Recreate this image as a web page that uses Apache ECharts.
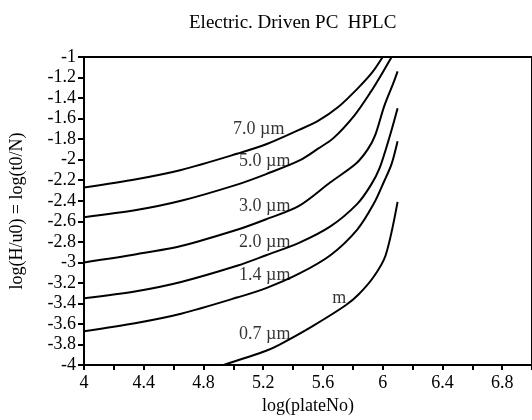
<!DOCTYPE html>
<html>
<head>
<meta charset="utf-8">
<script src="https://cdn.jsdelivr.net/npm/echarts@6/dist/echarts.min.js"></script>
<style>
  html, body { margin: 0; padding: 0; background: #fff; }
  #chart { width: 532px; height: 420px; }
</style>
</head>
<body>
<div id="chart"></div>
<script>
// curve data
var x70 = [4, 4.35, 4.65, 5.03, 5.22, 5.44, 5.57, 5.70, 5.83, 5.93, 6.00];
var y70 = [-2.27, -2.19, -2.10, -1.94, -1.85, -1.71, -1.62, -1.49, -1.31, -1.15, -1.00];

var x50 = [4, 4.35, 4.65, 5.03, 5.22, 5.44, 5.57, 5.67, 5.81, 5.92, 6.00, 6.06];
var y50 = [-2.56, -2.49, -2.40, -2.24, -2.14, -2.01, -1.89, -1.79, -1.57, -1.34, -1.15, -1.00];

var x30 = [4, 4.35, 4.65, 5.03, 5.22, 5.44, 5.65, 5.82, 5.90, 5.95, 6.01, 6.07, 6.10];
var y30 = [-3.00, -2.92, -2.84, -2.68, -2.58, -2.45, -2.22, -2.04, -1.90, -1.76, -1.48, -1.26, -1.14];

var x20 = [4, 4.35, 4.65, 5.03, 5.22, 5.44, 5.65, 5.83, 5.92, 5.98, 6.05, 6.10];
var y20 = [-3.35, -3.28, -3.19, -3.03, -2.93, -2.81, -2.65, -2.43, -2.25, -2.08, -1.76, -1.50];

var x14 = [4, 4.35, 4.65, 5.03, 5.22, 5.44, 5.65, 5.83, 5.94, 6.01, 6.06, 6.10];
var y14 = [-3.67, -3.59, -3.50, -3.34, -3.25, -3.11, -2.93, -2.68, -2.43, -2.21, -2.04, -1.82];

var x07 = [4.93, 5.22, 5.31, 5.52, 5.75, 5.84, 5.94, 6.02, 6.10];
var y07 = [-4.00, -3.86, -3.80, -3.63, -3.42, -3.31, -3.14, -2.93, -2.41];

// curve labels: [x, y, text]
var curveLabels = [
  [5.17, -1.70, '7.0 µm'],
  [5.21, -2.02, '5.0 µm'],
  [5.21, -2.45, '3.0 µm'],
  [5.21, -2.80, '2.0 µm'],
  [5.21, -3.13, '1.4 µm'],
  [5.21, -3.70, '0.7 µm'],
  [5.71, -3.35, 'm']
];

var serif = '"Liberation Serif", "DejaVu Serif", serif';

function pairs(xs, ys) {
  var out = [];
  for (var i = 0; i < xs.length; i++) {
    out.push([xs[i], ys[i]]);
  }
  return out;
}

function curve(name, xs, ys) {
  return {
    name: name,
    type: 'line',
    data: pairs(xs, ys),
    showSymbol: false,
    smooth: 0.3,
    lineStyle: { color: '#000', width: 2 },
    silent: true
  };
}

var chart = echarts.init(document.getElementById('chart'));
chart.setOption({
  animation: false,
  backgroundColor: '#fff',
  title: {
    text: 'Electric. Driven PC  HPLC',
    left: 184,
    top: 9,
    textStyle: { fontFamily: serif, fontSize: 19, fontWeight: 'normal', color: '#000' }
  },
  grid: {
    left: 80,
    top: 57,
    width: 459,
    height: 315,
    show: true,
    borderColor: '#000',
    borderWidth: 2
  },
  xAxis: {
    type: 'value',
    min: 4,
    max: 7,
    interval: 0.4,
    name: 'log(plateNo)',
    nameLocation: 'middle',
    nameGap: 30,
    nameTextStyle: { fontFamily: serif, fontSize: 18, color: '#000' },
    axisLine: { lineStyle: { color: '#000', width: 2 } },
    axisTick: { length: 5, lineStyle: { color: '#000', width: 2 } },
    minorTick: { show: true, splitNumber: 2, length: 5, lineStyle: { color: '#000', width: 2 } },
    axisLabel: {
      margin: 9,
      fontFamily: serif,
      fontSize: 18,
      color: '#000',
      showMaxLabel: false
    },
    splitLine: { show: false }
  },
  yAxis: {
    type: 'value',
    min: -4,
    max: -1,
    interval: 0.2,
    name: 'log(H/u0) = log(t0/N)',
    nameLocation: 'middle',
    nameGap: 58,
    nameTextStyle: { fontFamily: serif, fontSize: 18, color: '#000' },
    axisLine: { lineStyle: { color: '#000', width: 2 } },
    axisTick: { length: 6, lineStyle: { color: '#000', width: 2 } },
    axisLabel: {
      margin: 8,
      fontFamily: serif,
      fontSize: 18,
      color: '#000',
      formatter: function (v) { return String(Math.round(v * 10) / 10); }
    },
    splitLine: { show: false }
  },
  series: [
    curve('7.0', x70, y70),
    curve('5.0', x50, y50),
    curve('3.0', x30, y30),
    curve('2.0', x20, y20),
    curve('1.4', x14, y14),
    curve('0.7', x07, y07),
    {
      name: 'labels',
      type: 'scatter',
      data: curveLabels,
      symbolSize: 0,
      silent: true,
      label: {
        show: true,
        position: 'inside',
        fontFamily: serif,
        fontSize: 18,
        color: '#000',
        textBorderWidth: 0,
        formatter: function (p) { return p.value[2]; }
      }
    }
  ]
});
</script>
</body>
</html>
